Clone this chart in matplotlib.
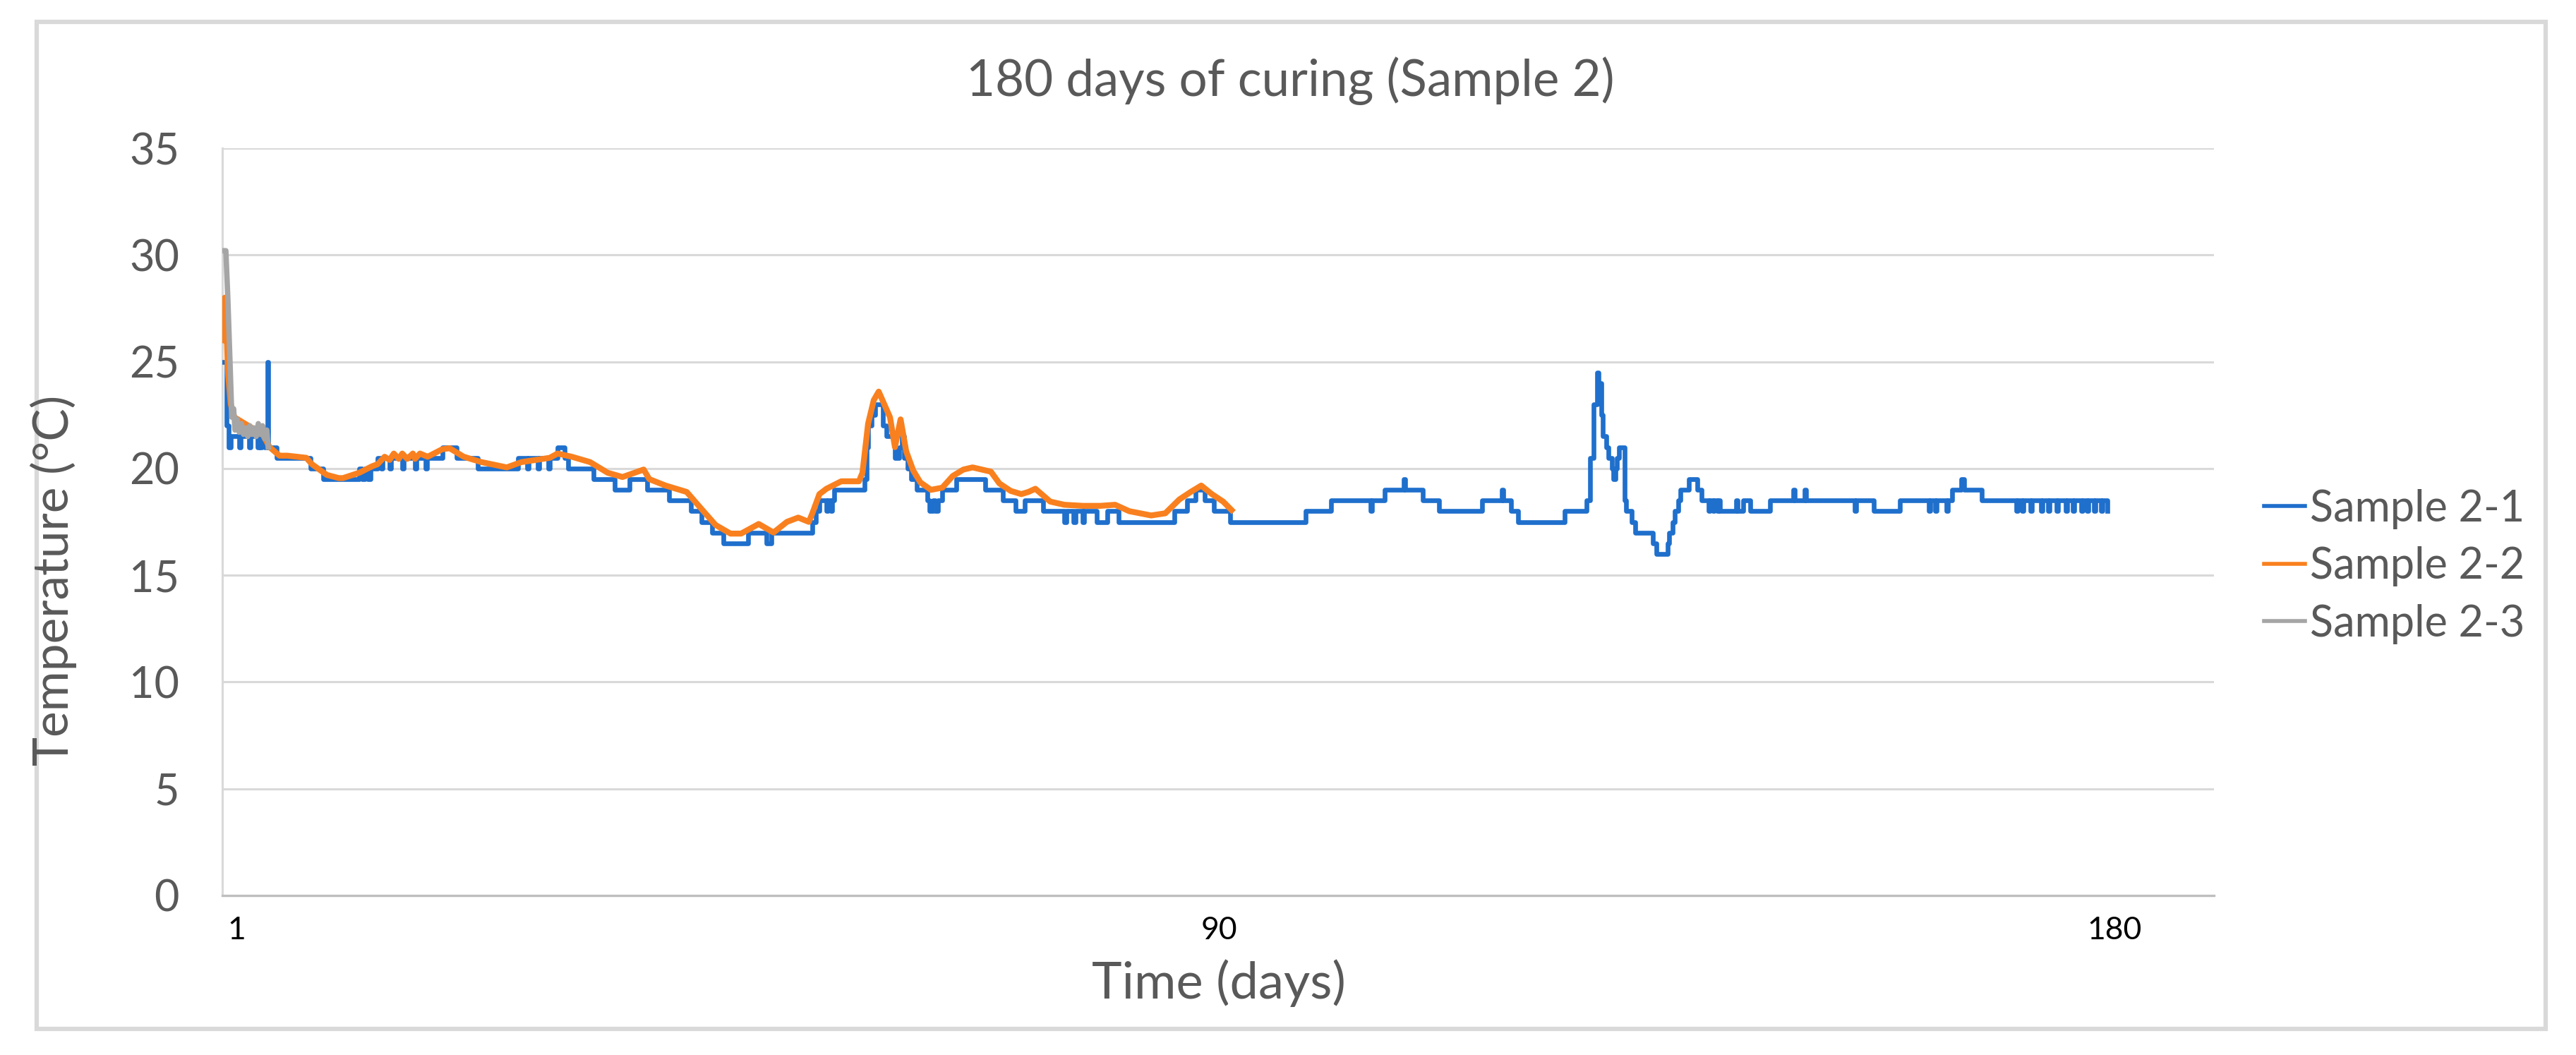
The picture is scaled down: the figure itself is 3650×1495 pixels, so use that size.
import matplotlib.pyplot as plt
from matplotlib.patches import Rectangle

# x positions are reading indices along the category axis
tick_pos = [18, 1410, 2679]
tick_labels = ['1', '90', '180']

# Sample 2-1 (stepped logger, 0.5 degC resolution): (reading, temperature)
s1_points = [
    (0, 25.0), (4, 22.0), (7, 21.0), (10, 21.5), (22, 21.0), (24, 21.5), (36, 21.0),
    (38, 21.5), (48, 21.0), (50, 21.5), (52, 21.0), (54, 21.5), (58, 21.0), (62, 25.0),
    (63.5, 21.0), (75, 20.5), (123, 20.0), (141, 19.5), (192, 20.0), (196, 19.5),
    (200, 20.0), (204, 19.5), (208, 20.0), (218, 20.5), (223, 20.0), (225, 20.5),
    (235, 20.0), (237, 20.5), (253, 20.0), (255, 20.5), (271, 20.0), (273, 20.5),
    (286, 20.0), (288, 20.5), (309.5, 21.0), (330, 20.5), (360, 20.0), (417, 20.5),
    (430, 20.0), (432, 20.5), (445, 20.0), (447, 20.5), (460, 20.0), (462, 20.5),
    (473, 21.0), (483, 20.5), (488, 20.0), (524, 19.5), (554, 19.0), (575, 19.5),
    (600, 19.0), (631, 18.5), (662, 18.0), (677, 17.5), (692, 17.0), (707.5, 16.5),
    (743, 17.0), (769, 16.5), (776, 17.0), (834, 17.5), (839, 18.0), (844, 18.5),
    (854, 18.0), (856, 18.5), (860, 18.0), (862, 18.5), (865, 19.0), (908, 19.5),
    (910.5, 21.0), (913, 22.0), (918, 22.5), (923, 23.0), (928, 23.0), (933.5, 22.0),
    (938.6, 21.5), (946, 21.5), (951, 20.5), (956.5, 21.0), (960.6, 21.5), (964, 20.5),
    (969, 20.0), (974, 19.5), (982, 19.0), (997, 18.5), (1000, 18.0), (1005, 18.5),
    (1008, 18.0), (1012, 18.5), (1018, 19.0), (1038, 19.5), (1079, 19.0), (1104, 18.5),
    (1122, 18.0), (1135, 18.5), (1160.5, 18.0), (1191, 17.5), (1194, 18.0),
    (1204, 17.5), (1206.5, 18.0), (1217, 17.5), (1219, 18.0), (1237, 17.5),
    (1252, 18.0), (1268, 17.5), (1347, 18.0), (1365, 18.5), (1377, 19.0), (1390, 18.5),
    (1403, 18.0), (1426, 17.5), (1533, 18.0), (1569, 18.5), (1625, 18.0), (1627, 18.5),
    (1645, 19.0), (1672, 19.5), (1674, 19.0), (1699, 18.5), (1722, 18.0), (1783, 18.5),
    (1811, 19.0), (1813, 18.5), (1824, 18.0), (1834, 17.5), (1900, 18.0), (1931, 18.5),
    (1936, 20.5), (1941, 23.0), (1946, 24.5), (1948, 24.0), (1951.4, 22.5),
    (1954, 21.5), (1959, 21.0), (1961.6, 20.5), (1966.7, 20.0), (1969, 19.5),
    (1972, 20.0), (1974, 20.5), (1977, 21.0), (1982, 21.0), (1984.5, 18.5),
    (1987, 18.0), (1995, 17.5), (2000, 17.0), (2025, 16.5), (2030, 16.0), (2046, 16.5),
    (2048, 17.0), (2053, 17.5), (2056, 18.0), (2061, 18.5), (2064, 19.0), (2076, 19.5),
    (2088, 19.0), (2094, 18.5), (2104, 18.0), (2106, 18.5), (2110, 18.0), (2112, 18.5),
    (2116, 18.0), (2118, 18.5), (2120, 18.0), (2143, 18.5), (2145, 18.0), (2153, 18.5),
    (2163, 18.0), (2191, 18.5), (2224, 19.0), (2226, 18.5), (2240, 19.0), (2242, 18.5),
    (2311, 18.0), (2313, 18.5), (2338, 18.0), (2375, 18.5), (2416, 18.0), (2418, 18.5),
    (2425, 18.0), (2427, 18.5), (2441, 18.0), (2443, 18.5), (2449, 19.0), (2462, 19.5),
    (2466, 19.0), (2491, 18.5), (2540, 18.0), (2542, 18.5), (2548, 18.0), (2550, 18.5),
    (2560, 18.0), (2562, 18.5), (2575, 18.0), (2577, 18.5), (2585, 18.0), (2587, 18.5),
    (2597, 18.0), (2599, 18.5), (2610, 18.0), (2612, 18.5), (2620, 18.0), (2622, 18.5),
    (2632, 18.0), (2634, 18.5), (2640, 18.0), (2642, 18.5), (2650, 18.0), (2652, 18.5),
    (2660, 18.0), (2662, 18.5), (2669, 18.0),
]

# Sample 2-2
s2_x = [0, 1.5, 3, 6, 10, 15, 25, 35, 45, 55, 65, 79, 90, 117, 125, 146, 163, 169,
        192, 210, 218, 228, 235, 241, 248, 253, 260, 268, 271, 278, 289, 309.5, 320,
        340, 365, 401, 422, 442, 462, 473, 493, 519, 544, 565, 595, 603, 626, 656,
        677, 697, 718, 733, 758, 779, 798, 814, 829, 834, 844, 854, 875, 900, 905,
        913, 921, 928, 936, 944, 951, 959, 967, 977, 987, 1002, 1018, 1033, 1048,
        1061, 1074, 1087, 1099, 1115, 1130, 1140, 1150, 1171, 1191, 1217, 1242,
        1263, 1283, 1314, 1334, 1354, 1370, 1385, 1400, 1416, 1428]
s2_y = [26.0, 28.0, 27.5, 24.5, 23.0, 22.4, 22.2, 22.0, 21.8, 21.6, 21.0, 20.6, 20.6,
        20.5, 20.2, 19.7, 19.55, 19.55, 19.8, 20.1, 20.2, 20.55, 20.4, 20.7, 20.45,
        20.7, 20.45, 20.7, 20.45, 20.7, 20.55, 20.9, 20.95, 20.55, 20.3, 20.05, 20.3,
        20.4, 20.5, 20.7, 20.55, 20.3, 19.8, 19.6, 19.95, 19.5, 19.2, 18.9, 18.1,
        17.35, 16.95, 16.95, 17.4, 17.0, 17.5, 17.7, 17.5, 17.9, 18.8, 19.05, 19.4,
        19.4, 19.8, 22.1, 23.2, 23.6, 23.0, 22.4, 21.0, 22.3, 20.8, 19.9, 19.35,
        19.0, 19.1, 19.65, 19.95, 20.05, 19.95, 19.85, 19.3, 18.95, 18.8, 18.9,
        19.05, 18.45, 18.3, 18.25, 18.25, 18.3, 18.0, 17.8, 17.9, 18.55, 18.9,
        19.2, 18.8, 18.45, 18.05]

# Sample 2-3
s3_x = [0, 3, 5.8, 9.6, 11.5, 14, 16, 19, 22, 25, 28, 31, 34, 37, 40, 43, 46, 49,
        52, 55, 58, 61, 63]
s3_y = [30.2, 30.2, 28.0, 24.3, 22.4, 22.8, 21.8, 22.3, 21.7, 22.1, 21.6, 21.9, 21.5,
        22.0, 21.6, 21.9, 21.5, 22.1, 21.6, 22.0, 21.4, 21.8, 21.0]

s1_x = [p[0] for p in s1_points]
s1_y = [p[1] for p in s1_points]

text_gray = '#595959'
grid_gray = '#d9d9d9'
font = 'Lato'

fig = plt.figure(figsize=(36.5, 14.95), dpi=100)
ax = fig.add_axes([0.0863, 0.1512, 0.7732, 0.7083])

ax.plot(s1_x, s1_y, color='#1f6fcc', linewidth=4.8, drawstyle='steps-post',
        label='Sample 2-1', zorder=3)
ax.plot(s2_x, s2_y, color='#f9801f', linewidth=6.0, label='Sample 2-2', zorder=4)
ax.plot(s3_x, s3_y, color='#a5a5a5', linewidth=5.5, label='Sample 2-3', zorder=5)

ax.set_xlim(-2, 2820)
ax.set_ylim(0, 35)
ax.set_yticks(range(0, 36, 5))
ax.set_xticks(tick_pos)
ax.set_xticklabels(tick_labels, fontname=font, fontsize=32, color='black')
for lbl in ax.get_yticklabels():
    lbl.set_fontname(font)
    lbl.set_fontsize(44)
    lbl.set_color(text_gray)
ax.tick_params(axis='both', length=0)
ax.tick_params(axis='x', pad=21)
ax.tick_params(axis='y', pad=44)

ax.grid(axis='y', color=grid_gray, linewidth=2.2, zorder=0)
ax.set_axisbelow(True)
for side in ['top', 'right']:
    ax.spines[side].set_visible(False)
ax.spines['left'].set_color(grid_gray)
ax.spines['left'].set_linewidth(2.2)
ax.spines['bottom'].set_color('#bfbfbf')
ax.spines['bottom'].set_linewidth(2.4)

fig.text(0.5008, 0.923, '180 days of curing (Sample 2)', ha='center', va='center',
         fontname=font, fontsize=51, color=text_gray)
fig.text(0.473, 0.068, 'Time (days)', ha='center', va='center',
         fontname=font, fontsize=52, color=text_gray)
fig.text(0.0208, 0.45, 'Temperature (°C)', ha='center', va='center', rotation=90,
         fontname=font, fontsize=50, color=text_gray)

leg = fig.legend(loc='center left', bbox_to_anchor=(0.879, 0.463), frameon=False,
                 prop={'family': font, 'size': 44}, handlelength=0.95,
                 handletextpad=0.1, labelspacing=0.4, borderpad=0, borderaxespad=0)
for line in leg.get_lines():
    line.set_linewidth(4.0)
for t in leg.get_texts():
    t.set_color(text_gray)

fig.patches.append(Rectangle((52 / 3650, 1 - 1458 / 1495), (3607 - 52) / 3650,
                             (1458 - 31) / 1495, transform=fig.transFigure,
                             fill=False, edgecolor=grid_gray, linewidth=4.5))

fig.savefig('out.png', dpi=100, facecolor='white')
